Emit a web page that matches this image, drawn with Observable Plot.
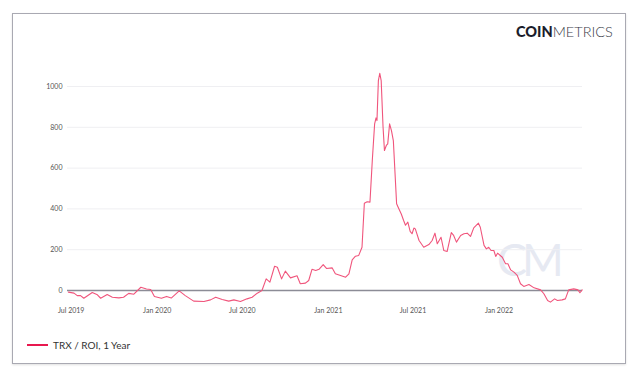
<!DOCTYPE html>
<html>
<head>
<meta charset="utf-8">
<script src="https://cdn.jsdelivr.net/npm/d3@7"></script>
<script src="https://cdn.jsdelivr.net/npm/@observablehq/plot@0.6"></script>
<style>
  html, body { margin: 0; padding: 0; background: #fff; }
  #page { position: relative; width: 640px; height: 378px; overflow: hidden; font-family: Lato, "Open Sans", sans-serif; }
  #frame { position: absolute; left: 12px; top: 13px; width: 612px; height: 349px; border: 1.5px solid #a9a9b2; box-shadow: 0 1px 2px rgba(0,0,0,0.12); }
  #logo { position: absolute; left: 516px; top: 23px; font-size: 14.5px; line-height: 18px; color: #1b1d2b; letter-spacing: 0px; white-space: nowrap; }
  #logo b { font-weight: 900; }
  #logo span { font-weight: 300; color: #3a3c48; }
  #wm { position: absolute; left: 497px; top: 232px; font-family: Lato, sans-serif; font-weight: 400; font-size: 45px; color: #e6e9f2; letter-spacing: -5px; }
  #chart { position: absolute; left: 0; top: 0; }
  #legend { position: absolute; left: 27px; top: 339px; display: flex; align-items: center; font-size: 10px; color: #333; }
  #legend i { display: inline-block; width: 21px; height: 2.5px; background: #e8184f; margin-right: 5px; }
</style>
</head>
<body>
<div id="page">
  <div id="frame"></div>
  <div id="logo"><b>COIN</b><span>METRICS</span></div>
  <div id="wm">CM</div>
  <div id="chart"></div>
  <div id="legend"><i></i>TRX / ROI, 1 Year</div>
</div>
<script>
const dates = [
  "2019-06-25","2019-07-07","2019-07-14","2019-07-21","2019-07-28","2019-08-15","2019-08-26","2019-09-02",
  "2019-09-16","2019-09-27","2019-10-11","2019-10-21","2019-11-01","2019-11-12","2019-11-27","2019-12-09",
  "2019-12-18","2019-12-26","2020-01-10","2020-01-21","2020-01-31","2020-02-17","2020-03-01","2020-03-19",
  "2020-04-10","2020-04-24","2020-05-05","2020-05-19","2020-06-02","2020-06-13","2020-06-27","2020-07-11",
  "2020-07-22","2020-08-02","2020-08-12","2020-08-21","2020-08-29","2020-09-08","2020-09-14","2020-09-23",
  "2020-10-01","2020-10-12","2020-10-26","2020-11-02","2020-11-13","2020-11-20","2020-11-27","2020-12-05",
  "2020-12-12","2020-12-21","2020-12-28","2021-01-09","2021-01-16","2021-01-27","2021-02-07","2021-02-14",
  "2021-02-21","2021-02-28","2021-03-07","2021-03-14","2021-03-19","2021-03-25","2021-03-31","2021-04-05",
  "2021-04-10","2021-04-13","2021-04-15","2021-04-18","2021-04-21","2021-04-24","2021-04-28","2021-05-01",
  "2021-05-05","2021-05-08","2021-05-12","2021-05-16","2021-05-20","2021-05-27","2021-06-01","2021-06-06",
  "2021-06-11","2021-06-15","2021-06-20","2021-06-25","2021-06-29","2021-07-03","2021-07-06","2021-07-14",
  "2021-07-24","2021-08-04","2021-08-11","2021-08-17","2021-08-22","2021-08-30","2021-09-05","2021-09-12",
  "2021-09-21","2021-09-26","2021-10-02","2021-10-11","2021-10-18","2021-10-25","2021-11-01","2021-11-08",
  "2021-11-18","2021-11-22","2021-11-30","2021-12-05","2021-12-10","2021-12-15","2021-12-21","2021-12-25",
  "2021-12-29","2022-01-08","2022-01-15","2022-01-20","2022-01-26","2022-02-02","2022-02-09","2022-02-16",
  "2022-02-23","2022-03-06","2022-03-17","2022-03-31","2022-04-07","2022-04-15","2022-04-21","2022-04-30",
  "2022-05-06","2022-05-16","2022-05-23","2022-05-30","2022-06-10","2022-06-19","2022-06-23","2022-06-28"
];
const roi = [
  -8,-13,-25,-25,-38,-10,-21,-38,
  -20,-33,-36,-33,-14,-18,16,7,
  5,-29,-38,-29,-37,-2,-25,-52,
  -54,-46,-33,-44,-52,-46,-54,-41,
  -33,-13,0,57,41,119,114,57,
  95,62,72,33,36,49,104,98,
  104,127,108,111,82,74,65,82,
  150,168,172,212,428,435,433,637,
  817,846,833,1029,1065,1029,801,686,
  711,719,817,784,735,425,400,375,
  343,320,335,290,278,306,302,245,
  212,225,245,281,229,261,196,191,
  284,270,237,270,278,281,265,307,
  330,310,221,204,212,196,196,167,
  183,163,131,131,101,90,74,33,
  20,29,13,3,-16,-49,-57,-41,
  -49,-46,-41,3,8,3,-11,3
];
const yTicks = [0, 200, 400, 600, 800, 1000];
const xTicks = ["2019-07-01","2020-01-01","2020-07-01","2021-01-01","2021-07-01","2022-01-01"];

const data = dates.map((d, i) => ({date: new Date(d), value: roi[i]}));

const chart = Plot.plot({
  width: 640,
  height: 330,
  marginLeft: 67,
  marginRight: 58,
  marginTop: 60,
  marginBottom: 30,
  style: {background: "transparent", fontFamily: "Lato, 'Open Sans', sans-serif"},
  x: {type: "utc", domain: [new Date(xTicks[0]), new Date(xTicks[5])], range: [70.7, 498.5]},
  y: {domain: [0, 1000], range: [290, 86]},
  marks: [
    Plot.ruleY(yTicks.filter(v => v !== 0), {stroke: "#efeff2", strokeWidth: 1}),
    Plot.ruleY([0], {stroke: "#8c8c96", strokeWidth: 1.5}),
    Plot.line(data, {x: "date", y: "value", stroke: "#f0557c", strokeWidth: 1.1}),
    Plot.axisY(yTicks, {tickSize: 0, tickPadding: 5, fontSize: 7, color: "#555", label: null, tickFormat: d3.format("d")}),
    Plot.axisX(xTicks.map(d => new Date(d)), {tickSize: 0, tickPadding: 8, fontSize: 7, color: "#555", label: null, tickFormat: d3.utcFormat("%b %Y")})
  ]
});
document.getElementById("chart").appendChild(chart);
</script>
</body>
</html>
